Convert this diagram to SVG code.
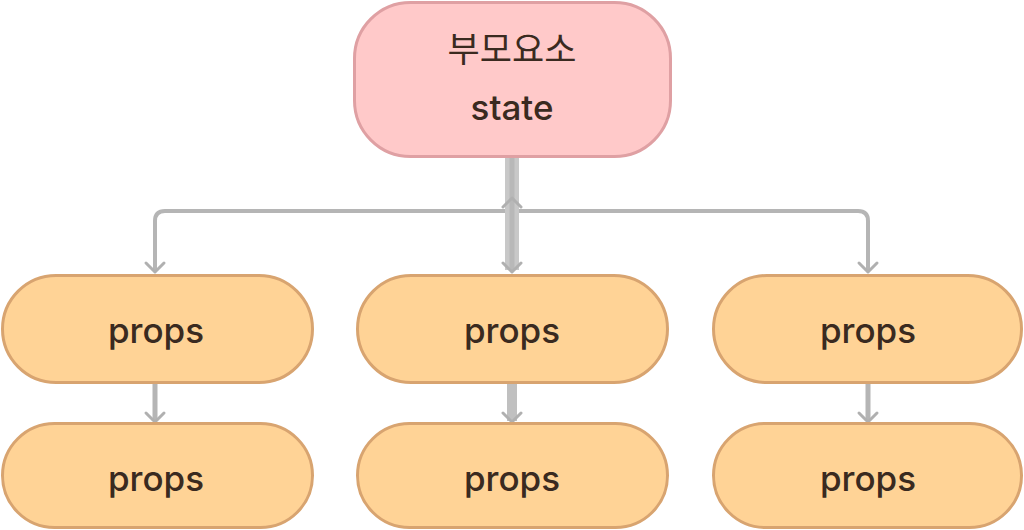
<svg xmlns="http://www.w3.org/2000/svg" width="1024" height="530" viewBox="0 0 1024 530">
<style>
.parent{fill:#ffc9c9;stroke:#dfa0a3;stroke-width:3}
.child{fill:#ffd396;stroke:#d8a470;stroke-width:3}
.lbl{font-family:Inter,"Noto Sans","Noto Sans CJK KR",sans-serif;font-size:35px;font-weight:500;fill:#3a2a20;text-anchor:middle}
.kr{font-family:"Noto Sans CJK KR","Noto Sans",sans-serif;font-size:35px;fill:#3a2a20;text-anchor:middle}
.edge{fill:none;stroke:#b5b5b5;stroke-width:4}
.head{fill:none;stroke:#b0b0b0;stroke-width:3;stroke-linecap:round;stroke-linejoin:round}
</style>
<g id="connectors">
  <path class="edge" d="M510 157 V211 H165 Q155 211 155 221 V270"/>
  <path class="edge" d="M514 157 V211 H858 Q868 211 868 221 V270"/>
  <path class="edge" d="M512 157 V270" style="stroke:#c8c8c8;stroke-width:14"/>
  <path class="edge" d="M512 157 V270" style="stroke:#b8b8b8;stroke-width:5"/>
  <path class="edge" d="M155 383 V421" style="stroke-width:5"/>
  <path class="edge" d="M512 383 V421" style="stroke:#c0c0c0;stroke-width:10"/>
  <path class="edge" d="M868 383 V421" style="stroke-width:5"/>
  <path class="head" d="M503 207 L512 198 L521 207"/>
  <path class="head" d="M146 263 L155 272 L164 263"/>
  <path class="head" d="M503 263 L512 272 L521 263"/>
  <path class="head" d="M859 263 L868 272 L877 263"/>
  <path class="head" d="M146 413 L155 422 L164 413"/>
  <path class="head" d="M503 413 L512 422 L521 413"/>
  <path class="head" d="M859 413 L868 422 L877 413"/>
</g>
<g id="parent">
  <rect class="parent" x="354.5" y="2.5" width="316" height="154" rx="56"/>
  <text class="kr" x="512" y="62">부모요소</text>
  <text class="lbl" x="512" y="120">state</text>
</g>
<g id="child-l1">
  <rect class="child" x="2.5" y="275.5" width="310" height="107" rx="53.5"/>
  <text class="lbl" x="156" y="343">props</text>
</g>
<g id="child-c1">
  <rect class="child" x="357.5" y="275.5" width="310" height="107" rx="53.5"/>
  <text class="lbl" x="512" y="343">props</text>
</g>
<g id="child-r1">
  <rect class="child" x="713.5" y="275.5" width="308" height="107" rx="53.5"/>
  <text class="lbl" x="868" y="343">props</text>
</g>
<g id="child-l2">
  <rect class="child" x="2.5" y="423.5" width="310" height="104" rx="52"/>
  <text class="lbl" x="156" y="491">props</text>
</g>
<g id="child-c2">
  <rect class="child" x="357.5" y="423.5" width="310" height="104" rx="52"/>
  <text class="lbl" x="512" y="491">props</text>
</g>
<g id="child-r2">
  <rect class="child" x="713.5" y="423.5" width="308" height="104" rx="52"/>
  <text class="lbl" x="868" y="491">props</text>
</g>
</svg>
